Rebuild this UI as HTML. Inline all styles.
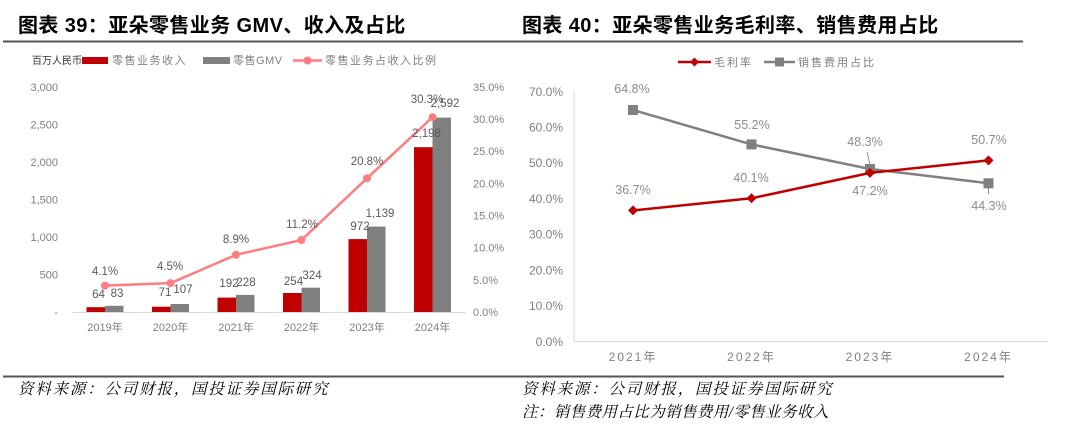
<!DOCTYPE html>
<html><head><meta charset="utf-8"><style>
html,body{margin:0;padding:0;background:#fff;}
svg{display:block;}
.t{font-family:"Liberation Sans","Noto Sans CJK SC",sans-serif;}
.ttl{font-family:"Liberation Sans","Noto Sans CJK SC",sans-serif;font-weight:bold;font-size:20px;fill:#000;letter-spacing:0.4px;}
.src{font-family:"Liberation Serif","Noto Serif CJK SC",serif;font-style:italic;font-size:15.5px;fill:#000;letter-spacing:1.8px;}
.note{font-family:"Liberation Serif","Noto Serif CJK SC",serif;font-style:italic;font-size:15.5px;fill:#000;letter-spacing:0.4px;}
.ax{font-family:"Liberation Sans","Noto Sans CJK SC",sans-serif;font-size:11px;fill:#7f7f7f;}
.dl{font-family:"Liberation Sans","Noto Sans CJK SC",sans-serif;font-size:11.5px;fill:#595959;}
.ax2{font-family:"Liberation Sans","Noto Sans CJK SC",sans-serif;font-size:12px;fill:#7f7f7f;}
.dl2{font-family:"Liberation Sans","Noto Sans CJK SC",sans-serif;font-size:12.5px;fill:#8c8c8c;}
</style></head><body>
<svg width="1080" height="434" viewBox="0 0 1080 434" xmlns="http://www.w3.org/2000/svg">
<!-- titles -->
<text class="ttl" x="18" y="32">图表 39：亚朵零售业务 GMV、收入及占比</text>
<text class="ttl" x="522" y="32">图表 40：亚朵零售业务毛利率、销售费用占比</text>
<line x1="3" y1="41.5" x2="1023" y2="41.5" stroke="#555" stroke-width="2"/>
<line x1="3" y1="376.5" x2="1004" y2="376.5" stroke="#555" stroke-width="2"/>
<text class="src" x="18" y="394">资料来源：公司财报，国投证券国际研究</text>
<text class="src" x="522" y="394">资料来源：公司财报，国投证券国际研究</text>
<text class="note" x="522" y="417">注：销售费用占比为销售费用/零售业务收入</text>

<!-- LEFT CHART legend -->
<text class="t" x="32" y="64" font-size="10" fill="#333">百万人民币</text>
<rect x="82" y="57" width="26" height="7" fill="#C00000"/>
<text class="ax" x="112" y="64" letter-spacing="1.5">零售业务收入</text>
<rect x="203" y="57" width="27" height="7" fill="#808080"/>
<text class="ax" x="233" y="64" letter-spacing="0.5">零售GMV</text>
<line x1="293" y1="60.5" x2="322" y2="60.5" stroke="#FF7C80" stroke-width="2.5"/>
<circle cx="307.5" cy="60.5" r="4" fill="#FF7C80"/>
<text class="ax" x="325" y="64" letter-spacing="1.5">零售业务占收入比例</text>

<!-- left axis labels -->
<g class="ax" text-anchor="end">
<text x="58" y="316">-</text>
<text x="58" y="278.5">500</text>
<text x="58" y="241">1,000</text>
<text x="58" y="203.5">1,500</text>
<text x="58" y="166">2,000</text>
<text x="58" y="128.5">2,500</text>
<text x="58" y="91">3,000</text>
</g>
<g class="ax">
<text x="473" y="316">0.0%</text>
<text x="473" y="284">5.0%</text>
<text x="473" y="251.5">10.0%</text>
<text x="473" y="219.5">15.0%</text>
<text x="473" y="187.5">20.0%</text>
<text x="473" y="155">25.0%</text>
<text x="473" y="123">30.0%</text>
<text x="473" y="91">35.0%</text>
</g>
<!-- bars -->
<g fill="#C00000">
<rect x="86.5" y="307.2" width="18.5" height="4.8"/>
<rect x="152" y="306.7" width="18.5" height="5.3"/>
<rect x="217.5" y="297.6" width="18.5" height="14.4"/>
<rect x="283" y="293" width="18.5" height="19"/>
<rect x="348.5" y="239.1" width="18.5" height="72.9"/>
<rect x="414" y="147.2" width="18.5" height="164.8"/>
</g>
<g fill="#808080">
<rect x="105" y="305.8" width="18.5" height="6.2"/>
<rect x="170.5" y="304" width="18.5" height="8"/>
<rect x="236" y="294.9" width="18.5" height="17.1"/>
<rect x="301.5" y="287.7" width="18.5" height="24.3"/>
<rect x="367" y="226.6" width="18.5" height="85.4"/>
<rect x="432.5" y="117.6" width="18.5" height="194.4"/>
</g>
<line x1="72" y1="312.5" x2="466" y2="312.5" stroke="#d9d9d9" stroke-width="1"/>
<!-- category labels -->
<g class="ax" text-anchor="middle">
<text x="105" y="331">2019年</text>
<text x="170.5" y="331">2020年</text>
<text x="236" y="331">2021年</text>
<text x="301.5" y="331">2022年</text>
<text x="367" y="331">2023年</text>
<text x="432.5" y="331">2024年</text>
</g>
<!-- pink line -->
<polyline points="105,285.6 170.5,283.1 236,254.8 301.5,240 367,178.3 432.5,117.2" fill="none" stroke="#FF7C80" stroke-width="2.5"/>
<g fill="#FF7C80">
<circle cx="105" cy="285.6" r="4"/>
<circle cx="170.5" cy="283.1" r="4"/>
<circle cx="236" cy="254.8" r="4"/>
<circle cx="301.5" cy="240" r="4"/>
<circle cx="367" cy="178.3" r="4"/>
<circle cx="432.5" cy="117.2" r="4"/>
</g>
<!-- data labels left -->
<g class="dl" text-anchor="middle">
<text x="105" y="275">4.1%</text>
<text x="170" y="270">4.5%</text>
<text x="236" y="243">8.9%</text>
<text x="302" y="228">11.2%</text>
<text x="367" y="165">20.8%</text>
<text x="427" y="103">30.3%</text>
<text x="98.5" y="298">64</text>
<text x="117" y="297">83</text>
<text x="165" y="296">71</text>
<text x="183" y="293">107</text>
<text x="229" y="287">192</text>
<text x="246" y="286">228</text>
<text x="293.5" y="285">254</text>
<text x="312" y="279">324</text>
<text x="360" y="230">972</text>
<text x="380" y="217">1,139</text>
<text x="426.5" y="137">2,198</text>
<text x="445" y="107">2,592</text>
</g>

<!-- RIGHT CHART legend -->
<line x1="678" y1="62" x2="711" y2="62" stroke="#C00000" stroke-width="2.5"/>
<polygon points="694.5,57.5 699,62 694.5,66.5 690,62" fill="#C00000"/>
<text class="ax" x="714" y="66" letter-spacing="2">毛利率</text>
<line x1="764" y1="62" x2="795" y2="62" stroke="#808080" stroke-width="2.5"/>
<rect x="775" y="57.5" width="9" height="9" fill="#808080"/>
<text class="ax" x="798" y="66" letter-spacing="2">销售费用占比</text>

<!-- right axes -->
<line x1="574" y1="91" x2="574" y2="341.5" stroke="#d9d9d9" stroke-width="1"/>
<line x1="574" y1="341.5" x2="1048" y2="341.5" stroke="#d9d9d9" stroke-width="1"/>
<g class="ax2" text-anchor="end">
<text x="563" y="346">0.0%</text>
<text x="563" y="310">10.0%</text>
<text x="563" y="274.5">20.0%</text>
<text x="563" y="238.5">30.0%</text>
<text x="563" y="203">40.0%</text>
<text x="563" y="167">50.0%</text>
<text x="563" y="131.5">60.0%</text>
<text x="563" y="96">70.0%</text>
</g>
<g class="ax2" text-anchor="middle" letter-spacing="2">
<text x="633" y="361">2021年</text>
<text x="751.5" y="361">2022年</text>
<text x="870" y="361">2023年</text>
<text x="988.5" y="361">2024年</text>
</g>
<!-- gray line -->
<polyline points="633,110 751.5,144.4 870,169 988.5,183.3" fill="none" stroke="#808080" stroke-width="2.5"/>
<g fill="#808080">
<rect x="628" y="105" width="10" height="10"/>
<rect x="746.5" y="139.4" width="10" height="10"/>
<rect x="865" y="164" width="10" height="10"/>
<rect x="983.5" y="178.3" width="10" height="10"/>
</g>
<!-- red line -->
<polyline points="633,210.4 751.5,198.3 870,172.9 988.5,160.4" fill="none" stroke="#C00000" stroke-width="2.5"/>
<g fill="#C00000">
<polygon points="633,205.4 638,210.4 633,215.4 628,210.4"/>
<polygon points="751.5,193.3 756.5,198.3 751.5,203.3 746.5,198.3"/>
<polygon points="870,167.9 875,172.9 870,177.9 865,172.9"/>
<polygon points="988.5,155.4 993.5,160.4 988.5,165.4 983.5,160.4"/>
</g>
<line x1="867" y1="152" x2="870" y2="165" stroke="#8c8c8c" stroke-width="1"/>
<line x1="988.5" y1="188" x2="988.5" y2="194" stroke="#8c8c8c" stroke-width="1"/>
<g class="dl2" text-anchor="middle">
<text x="632" y="93">64.8%</text>
<text x="752" y="129">55.2%</text>
<text x="633" y="194">36.7%</text>
<text x="751" y="182">40.1%</text>
<text x="865" y="146">48.3%</text>
<text x="870" y="195">47.2%</text>
<text x="989" y="144">50.7%</text>
<text x="989" y="210">44.3%</text>
</g>
</svg>
</body></html>
